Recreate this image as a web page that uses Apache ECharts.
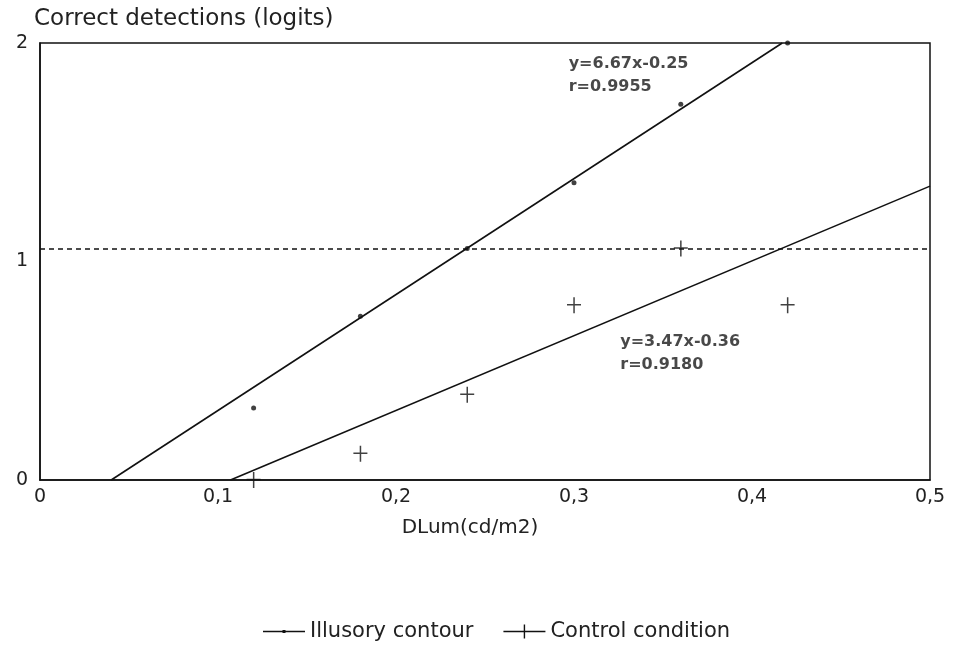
<!DOCTYPE html>
<html>
<head>
<meta charset="utf-8">
<script src="https://cdn.jsdelivr.net/npm/echarts@6/dist/echarts.min.js"></script>
<style>html,body{margin:0;padding:0;background:#fff}#c{width:958px;height:653px}</style>
</head>
<body>
<div id="c"></div>
<script>
const xValues = [0.12, 0.18, 0.24, 0.30, 0.36, 0.42];
const illusoryValues = [0.33, 0.75, 1.06, 1.36, 1.72, 2.0];
const controlValues = [0.0, 0.12, 0.39, 0.80, 1.06, 0.80];
const illusoryFitX = [0.04, 0.417];
const illusoryFitY = [0, 2];
const controlFitX = [0.107, 0.5];
const controlFitY = [0, 1.345];
const thresholdY = 1.057;
const illusoryEq = ['y=6.67x-0.25', 'r=0.9955'];
const controlEq = ['y=3.47x-0.36', 'r=0.9180'];
const illusoryEqPos = [0.297, 1.955];
const controlEqPos = [0.326, 0.685];

const ink = '#111';
const font = 'DejaVu Sans, Liberation Sans, sans-serif';
const chart = echarts.init(document.getElementById('c'), null, {renderer: 'canvas'});
const zip = (a, b) => a.map((v, i) => [v, b[i]]);
const crossPath = 'path://M0,6.8h14v1.5h-14z M6.3,0h1.5v16h-1.5z';

chart.setOption({
  backgroundColor: '#fff',
  animation: false,
  textStyle: {fontFamily: font},
  grid: {left: 40, right: 28, top: 43, bottom: 173, show: true, borderColor: ink, borderWidth: 1.5, backgroundColor: 'transparent'},
  xAxis: {
    type: 'value', min: 0, max: 0.5, interval: 0.1,
    name: 'DLum(cd/m2)', nameLocation: 'middle', nameGap: 38,
    nameTextStyle: {fontSize: 20, color: '#222', padding: [0, 30, 0, 0]},
    axisLine: {lineStyle: {color: ink, width: 1.5}},
    axisTick: {show: false}, splitLine: {show: false},
    axisLabel: {fontSize: 19, color: '#222', margin: 8,
      formatter: v => (Math.round(v * 10) / 10).toString().replace('.', ',')}
  },
  yAxis: {
    type: 'value', min: 0, max: 2, interval: 1,
    name: 'Correct detections (logits)', nameLocation: 'end', nameGap: 12,
    nameTextStyle: {fontSize: 23, color: '#222', align: 'left', padding: [0, 0, 0, -6]},
    axisLine: {lineStyle: {color: ink, width: 1.5}},
    axisTick: {show: false}, splitLine: {show: false},
    axisLabel: {fontSize: 19, color: '#222', margin: 12}
  },
  legend: {
    bottom: 6, left: 258, itemWidth: 42, itemHeight: 14, itemGap: 30,
    textStyle: {fontSize: 21, color: '#222'},
    data: [
      {name: 'Illusory contour', icon: 'path://M0,6.3h42v1.4h-42z M19.5,5.5h3v3h-3z'},
      {name: 'Control condition', icon: 'path://M0,6.3h42v1.4h-42z M20.3,0h1.4v14h-1.4z'}
    ]
  },
  series: [
    {name: 'Illusory contour', type: 'line', data: zip(illusoryFitX, illusoryFitY), symbol: 'none',
      lineStyle: {color: ink, width: 1.6}, itemStyle: {color: ink}, z: 3},
    {name: 'Illusory contour', type: 'scatter', data: zip(xValues, illusoryValues), symbol: 'circle', symbolSize: 5,
      itemStyle: {color: ink}, z: 4},
    {name: 'Control condition', type: 'line', data: zip(controlFitX, controlFitY), symbol: 'none',
      lineStyle: {color: ink, width: 1.6}, itemStyle: {color: ink}, z: 3},
    {name: 'Control condition', type: 'scatter', data: zip(xValues, controlValues), symbol: crossPath, symbolSize: [14, 16],
      symbolKeepAspect: false, itemStyle: {color: ink}, z: 4},
    {name: 'threshold', type: 'line', data: [[0, thresholdY], [0.5, thresholdY]], symbol: 'none',
      lineStyle: {color: ink, width: 1.6, type: [5, 4]}, z: 2},
    {name: 'equations', type: 'scatter', symbolSize: 0, silent: true,
      data: [
        {value: illusoryEqPos, label: {formatter: illusoryEq.join('\n')}},
        {value: controlEqPos, label: {formatter: controlEq.join('\n')}}
      ],
      label: {show: true, position: [0, 0], align: 'left', verticalAlign: 'top',
        fontSize: 16, fontWeight: 'bold', color: '#1a1a1a', lineHeight: 23,
        fontFamily: font}}
  ]
});
</script>
</body>
</html>
